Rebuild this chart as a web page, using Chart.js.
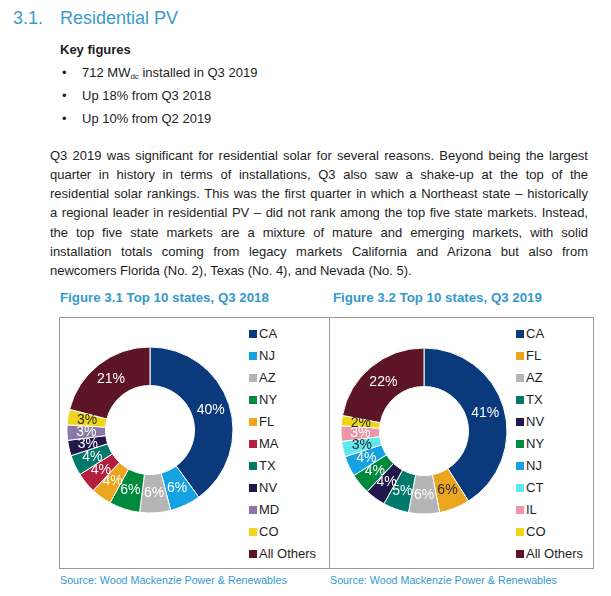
<!DOCTYPE html>
<html>
<head>
<meta charset="utf-8">
<script src="https://cdn.jsdelivr.net/npm/chart.js@4.4.1/dist/chart.umd.min.js"></script>
<style>
  body { margin: 0; width: 611px; height: 596px; background: #fff; position: relative; overflow: hidden;
         font-family: Arial, "Liberation Sans", sans-serif; color: #1e1e1e; }
  .abs { position: absolute; white-space: nowrap; }
  .h1 { font-size: 18px; line-height: 24px; color: #3a9bcc; }
  .t13 { font-size: 13px; line-height: 19px; }
  .para div { position: absolute; left: 50px; width: 538px; font-size: 13px; line-height: 19px;
              white-space: nowrap; text-align: justify; text-align-last: justify; }
  .para div.last { text-align-last: left; }
  .figtitle { font-size: 13.3px; line-height: 19px; font-weight: bold; color: #3399cc; }
  .source { font-size: 10.7px; line-height: 14px; color: #3399cc; }
  .box { position: absolute; border: 1px solid #999; box-sizing: border-box; }
  .legend { position: absolute; margin: 0; padding: 0; list-style: none; }
  .legend li { position: absolute; left: 0; height: 22px; font-size: 13px; line-height: 22px; white-space: nowrap; color: #1e1e1e; }
  .legend li span.sw { position: absolute; left: 0; top: 7px; width: 8px; height: 8px; }
  .legend li span.tx { position: absolute; left: 10px; top: 0; }
  canvas { position: absolute; }
</style>
</head>
<body>

<div class="abs h1" style="left:13px; top:6px;">3.1.</div>
<div class="abs h1" style="left:60px; top:6px;">Residential PV</div>

<div class="abs t13" style="left:60px; top:40px; font-weight:bold;">Key figures</div>
<div class="abs t13" style="left:62px; top:63px;">•</div>
<div class="abs t13" style="left:82px; top:63px;">712 MW<span style="font-size:8px; position:relative; top:2px;">dc</span> installed in Q3 2019</div>
<div class="abs t13" style="left:62px; top:86px;">•</div>
<div class="abs t13" style="left:82px; top:86px;">Up 18% from Q3 2018</div>
<div class="abs t13" style="left:62px; top:109px;">•</div>
<div class="abs t13" style="left:82px; top:109px;">Up 10% from Q2 2019</div>

<div class="para">
  <div style="top:145.5px;">Q3 2019 was significant for residential solar for several reasons. Beyond being the largest</div>
  <div style="top:164.8px;">quarter in history in terms of installations, Q3 also saw a shake-up at the top of the</div>
  <div style="top:184.1px;">residential solar rankings. This was the first quarter in which a Northeast state – historically</div>
  <div style="top:203.4px;">a regional leader in residential PV – did not rank among the top five state markets. Instead,</div>
  <div style="top:222.7px;">the top five state markets are a mixture of mature and emerging markets, with solid</div>
  <div style="top:242px;">installation totals coming from legacy markets California and Arizona but also from</div>
  <div class="last" style="top:261.3px;">newcomers Florida (No. 2), Texas (No. 4), and Nevada (No. 5).</div>
</div>

<div class="abs figtitle" style="left:60px; top:288px;">Figure 3.1 Top 10 states, Q3 2018</div>
<div class="abs figtitle" style="left:333px; top:288px;">Figure 3.2 Top 10 states, Q3 2019</div>

<div class="box" style="left:59px; top:317px; width:271px; height:252px;"></div>
<div class="box" style="left:329px; top:317px; width:265px; height:252px;"></div>

<canvas id="c2018" width="180" height="180" style="left:60px; top:340px;"></canvas>
<canvas id="c2019" width="180" height="180" style="left:334px; top:341px;"></canvas>

<ul class="legend" id="leg2018" style="left:249px; top:323px;"></ul>
<ul class="legend" id="leg2019" style="left:516px; top:323px;"></ul>

<div class="abs source" style="left:60px; top:573px;">Source: Wood Mackenzie Power &amp; Renewables</div>
<div class="abs source" style="left:330px; top:573px;">Source: Wood Mackenzie Power &amp; Renewables</div>

<script>
// ---- données ----
const states2018 = ['CA', 'NJ', 'AZ', 'NY', 'FL', 'MA', 'TX', 'NV', 'MD', 'CO', 'All Others'];
const share2018  = [40, 6, 6, 6, 4, 4, 4, 3, 3, 3, 21];

const states2019 = ['CA', 'FL', 'AZ', 'TX', 'NV', 'NY', 'NJ', 'CT', 'IL', 'CO', 'All Others'];
const share2019  = [41, 6, 6, 5, 4, 4, 4, 3, 3, 2, 22];

// ---- couleurs ----
const stateColors = {
  CA: '#0b3a7c', NJ: '#14a3e0', AZ: '#b5b5b5', NY: '#00893d', FL: '#eba51f',
  MA: '#b41f3e', TX: '#00786a', NV: '#22174a', MD: '#8a77a6', CO: '#f1d517',
  CT: '#62e6ef', IL: '#eb97a7', 'All Others': '#5d1424'
};

// Etiquettes % au centre de chaque arc
const sliceLabels = {
  id: 'sliceLabels',
  afterDatasetsDraw(chart) {
    const ctx = chart.ctx;
    const ds = chart.data.datasets[0];
    const darkOnes = chart.options.plugins.sliceLabels.dark;
    chart.getDatasetMeta(0).data.forEach((arc, i) => {
      const p = arc.getCenterPoint();
      const name = chart.data.labels[i];
      ctx.save();
      ctx.font = '14px Arial, "Liberation Sans", sans-serif';
      ctx.textAlign = 'center';
      ctx.textBaseline = 'middle';
      ctx.fillStyle = darkOnes.includes(name) ? '#2a2a2a' : '#ffffff';
      ctx.fillText(ds.data[i] + '%', p.x, p.y);
      ctx.restore();
    });
  }
};

// Légende HTML construite depuis les labels générés par Chart.js
function htmlLegend(chart, id) {
  const ul = document.getElementById(id);
  const items = chart.options.plugins.legend.labels.generateLabels(chart);
  ul.innerHTML = items.map((it, i) =>
    `<li style="top:${i * 22}px"><span class="sw" style="background:${it.fillStyle}"></span><span class="tx">${it.text}</span></li>`
  ).join('');
}

function makeDonut(canvasId, legendId, labels, values, dark) {
  const chart = new Chart(document.getElementById(canvasId), {
    type: 'doughnut',
    data: {
      labels,
      datasets: [{
        data: values,
        backgroundColor: labels.map(l => stateColors[l]),
        borderColor: '#ffffff',
        borderWidth: 1,
      }],
    },
    options: {
      responsive: false,
      animation: false,
      radius: 83,
      cutout: 48,
      layout: { padding: 0 },
      plugins: {
        legend: { display: false },
        tooltip: { enabled: false },
        sliceLabels: { dark },
      },
    },
    plugins: [sliceLabels],
  });
  htmlLegend(chart, legendId);
  return chart;
}

makeDonut('c2018', 'leg2018', states2018, share2018, ['CO']);
makeDonut('c2019', 'leg2019', states2019, share2019, ['CO', 'CT', 'FL']);
</script>
</body>
</html>
